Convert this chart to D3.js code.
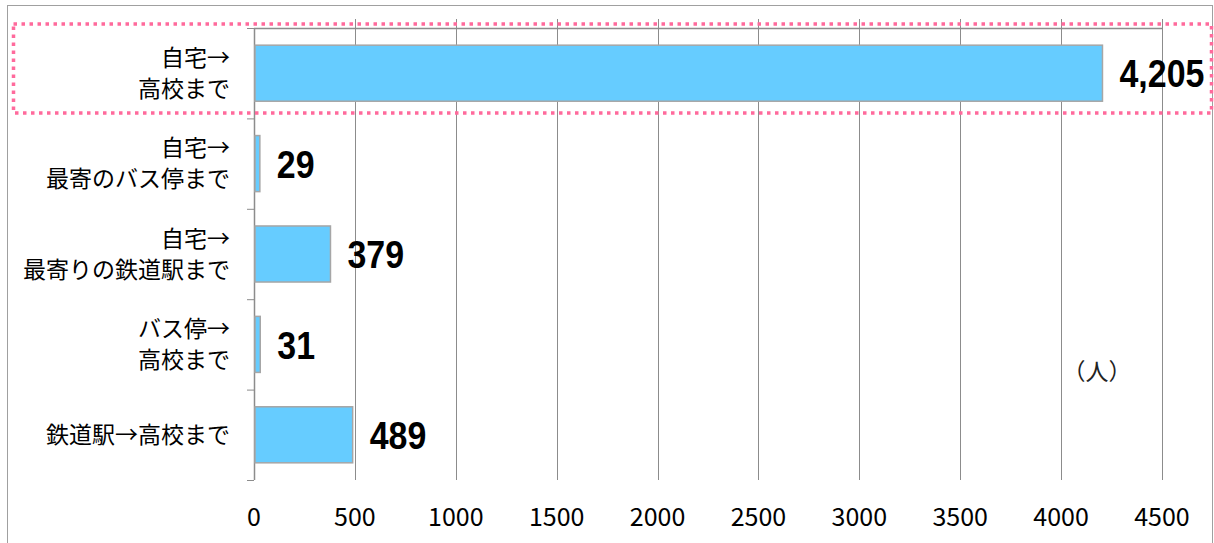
<!DOCTYPE html>
<html>
<head>
<meta charset="utf-8">
<style>
  body { margin: 0; background: #fff; }
  svg text { font-family: "Noto Sans CJK JP", sans-serif; }
</style>
<script src="https://cdnjs.cloudflare.com/ajax/libs/d3/7.8.5/d3.min.js"></script>
</head>
<body>
<div id="chart"></div>
<script>
// category labels (line breaks as in the chart)
const categories = [
  ["自宅→", "高校まで"],
  ["自宅→", "最寄のバス停まで"],
  ["自宅→", "最寄りの鉄道駅まで"],
  ["バス停→", "高校まで"],
  ["鉄道駅→高校まで"]
];
const values = [4205, 29, 379, 31, 489];
const ticks = [0, 500, 1000, 1500, 2000, 2500, 3000, 3500, 4000, 4500];
const unitLabel = "（人）";

const W = 1214, H = 543;
const svg = d3.select("#chart").append("svg")
  .attr("width", W).attr("height", H);

const x = d3.scaleLinear().domain([0, 4500]).range([254, 1162]);
const y = d3.scaleBand().domain(d3.range(values.length)).range([28, 480])
  .paddingInner(0.38).paddingOuter(0.19);

// outer frame
svg.append("rect")
  .attr("x", 7.5).attr("y", 5.5).attr("width", 1205).attr("height", 600)
  .attr("fill", "none").attr("stroke", "#a0a0a0").attr("stroke-width", 1);

// vertical gridlines
svg.selectAll("line.grid").data(ticks.slice(1)).enter().append("line")
  .attr("class", "grid")
  .attr("x1", d => Math.round(x(d)) + 0.5).attr("x2", d => Math.round(x(d)) + 0.5)
  .attr("y1", 19).attr("y2", 480)
  .attr("stroke", "#8c8c8c").attr("stroke-width", 1);

// top line
svg.append("line")
  .attr("x1", 254).attr("x2", 1163).attr("y1", 28.5).attr("y2", 28.5)
  .attr("stroke", "#8c8c8c").attr("stroke-width", 1.5);

// category axis
svg.append("line")
  .attr("x1", 254.5).attr("x2", 254.5).attr("y1", 28).attr("y2", 480)
  .attr("stroke", "#8c8c8c").attr("stroke-width", 1.5);
svg.selectAll("line.ctick").data(d3.range(values.length + 1)).enter().append("line")
  .attr("class", "ctick")
  .attr("x1", 247).attr("x2", 254)
  .attr("y1", i => 28 + i * (452 / values.length) + 0.5)
  .attr("y2", i => 28 + i * (452 / values.length) + 0.5)
  .attr("stroke", "#8c8c8c").attr("stroke-width", 1);

// bars
svg.selectAll("rect.bar").data(values).enter().append("rect")
  .attr("class", "bar")
  .attr("x", x(0) + 1).attr("y", (d, i) => y(i))
  .attr("width", d => x(d) - x(0) - 1).attr("height", y.bandwidth())
  .attr("fill", "#66ccff").attr("stroke", "#a6a6a6").attr("stroke-width", 1.5);

// value labels (slightly tall, narrow look)
svg.selectAll("text.val").data(values).enter().append("text")
  .attr("class", "val")
  .attr("transform", (d, i) => `translate(${x(d) + 17},${y(i) + y.bandwidth() / 2}) scale(0.97,1.12)`)
  .attr("dy", "0.36em")
  .style("font-family", "'Liberation Sans', Arial, sans-serif")
  .style("font-weight", "bold").style("font-size", "35px")
  .attr("fill", "#000")
  .text(d => d3.format(",")(d));

// category labels
categories.forEach((lines, i) => {
  const cy = y(i) + y.bandwidth() / 2;
  const lh = 31;
  const t = svg.append("text")
    .attr("text-anchor", "end").style("font-size", "23px").attr("fill", "#000");
  lines.forEach((ln, j) => {
    t.append("tspan")
      .attr("x", 230)
      .attr("y", cy + (j - (lines.length - 1) / 2) * lh)
      .attr("dy", "0.35em")
      .text(ln);
  });
});

// x tick labels
svg.selectAll("text.tick").data(ticks).enter().append("text")
  .attr("class", "tick")
  .attr("x", d => x(d)).attr("y", 517).attr("dy", "0.35em")
  .attr("text-anchor", "middle").style("font-size", "25px").attr("fill", "#000")
  .text(d => d);

// unit label
svg.append("text")
  .attr("x", 1097).attr("y", 372).attr("dy", "0.35em")
  .attr("text-anchor", "middle").style("font-size", "23px").attr("fill", "#222")
  .text(unitLabel);

// highlight box around the first category
svg.append("rect")
  .attr("x", 13.5).attr("y", 24).attr("width", 1198).attr("height", 89)
  .attr("fill", "none").attr("stroke", "#ff6a9c").attr("stroke-width", 3.5)
  .attr("stroke-dasharray", "3.5,4.5");
</script>
</body>
</html>
